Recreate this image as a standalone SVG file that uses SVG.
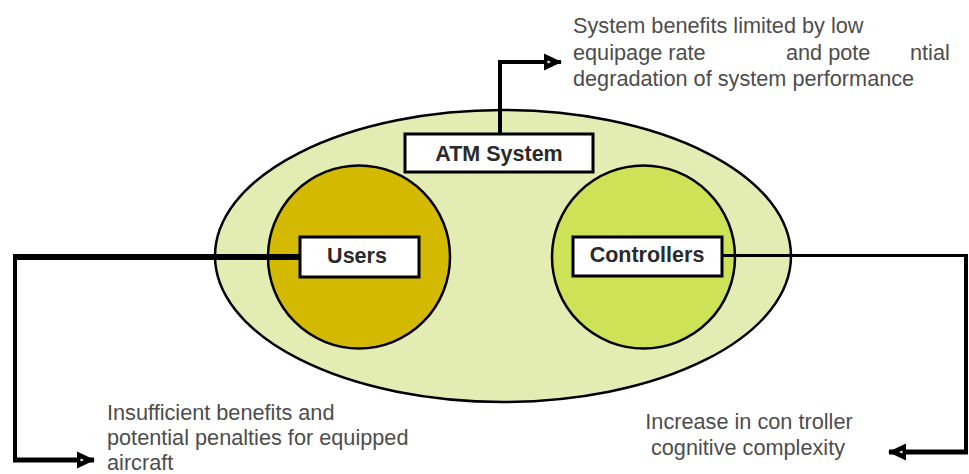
<svg xmlns="http://www.w3.org/2000/svg" width="969" height="474" viewBox="0 0 969 474">
  <style>
    .outline { stroke: #000; stroke-width: 2.5; }
    .box { fill: #fff; stroke: #000; stroke-width: 3; }
    .lbl { font-family: "Liberation Sans", Arial, sans-serif; font-weight: bold; font-size: 21.5px; fill: #2a2a2a; text-anchor: middle; }
    .note { font-family: "Liberation Sans", Arial, sans-serif; font-size: 21.7px; fill: #4d4d4d; }
    .conn { fill: none; stroke: #000; stroke-linejoin: miter; stroke-linecap: butt; }
  </style>
  <defs>
    <marker id="arrow" viewBox="0 0 18 18" refX="17" refY="9" markerWidth="18" markerHeight="18" markerUnits="userSpaceOnUse" orient="auto">
      <path d="M0,0.5 L18,9 L0,17.5 Z" fill="#000"/>
      <path d="M3.5,7.5 L7,9 L3.5,10.5 Z" fill="#fff"/>
    </marker>
  </defs>

  <g id="atm-system-area">
    <ellipse cx="503" cy="256" rx="288" ry="146" fill="#e3edb3" class="outline"/>
  </g>
  <g id="users-area">
    <ellipse cx="359" cy="257" rx="91" ry="91.5" fill="#d3b900" class="outline"/>
  </g>
  <g id="controllers-area">
    <ellipse cx="643.5" cy="257" rx="91.5" ry="91.5" fill="#cde256" class="outline"/>
  </g>

  <g id="connectors">
    <path class="conn" d="M500,134 L500,62 L561,62" stroke-width="4" marker-end="url(#arrow)"/>
    <path class="conn" d="M300,257 L15,257" stroke-width="6"/>
    <path class="conn" d="M15,254 L15,460" stroke-width="4"/>
    <path class="conn" d="M13,460 L94,460" stroke-width="5" marker-end="url(#arrow)"/>
    <path class="conn" d="M722,255.5 L966,255.5" stroke-width="3"/>
    <path class="conn" d="M966,254 L966,452" stroke-width="4"/>
    <path class="conn" d="M968,452 L889,452" stroke-width="5" marker-end="url(#arrow)"/>
  </g>

  <g id="atm-system">
    <rect x="405" y="134" width="188" height="38" class="box"/>
    <text x="499" y="161" class="lbl">ATM System</text>
  </g>
  <g id="users">
    <rect x="300" y="237" width="119" height="40" class="box"/>
    <text x="357" y="263" class="lbl">Users</text>
  </g>
  <g id="controllers">
    <rect x="573" y="237" width="149" height="39" class="box"/>
    <text x="647" y="262" class="lbl">Controllers</text>
  </g>

  <g id="note-system">
    <text class="note" x="573" y="33">System benefits limited by low</text>
    <text class="note" y="59.5"><tspan x="573">equipage rate</tspan><tspan x="786">and pote</tspan><tspan x="910">ntial</tspan></text>
    <text class="note" x="573" y="86">degradation of system performance</text>
  </g>
  <g id="note-users">
    <text class="note" x="107" y="420">Insufficient benefits and</text>
    <text class="note" x="107" y="445">potential penalties for equipped</text>
    <text class="note" x="107" y="470">aircraft</text>
  </g>
  <g id="note-controllers">
    <text class="note" x="749" y="429" text-anchor="middle">Increase in con troller</text>
    <text class="note" x="748" y="455" text-anchor="middle">cognitive complexity</text>
  </g>
</svg>
